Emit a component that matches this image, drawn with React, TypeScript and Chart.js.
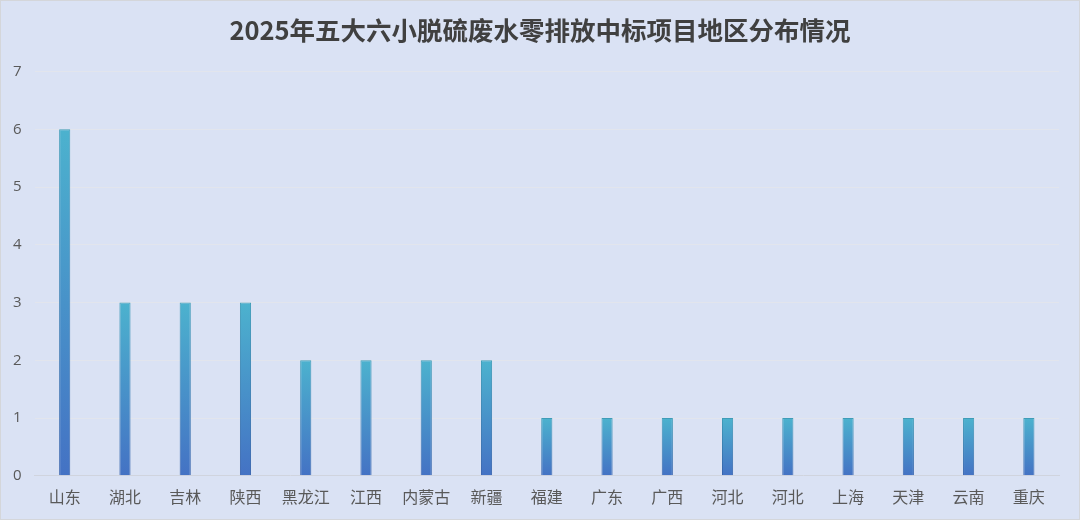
import React, { useEffect, useRef } from "react";
import { Chart, registerables } from "chart.js";

Chart.register(...registerables);

const TITLE = "2025年五大六小脱硫废水零排放中标项目地区分布情况";
const categories = ["山东", "湖北", "吉林", "陕西", "黑龙江", "江西", "内蒙古", "新疆", "福建", "广东", "广西", "河北", "河北", "上海", "天津", "云南", "重庆"];
const counts = [6, 3, 3, 3, 2, 2, 2, 2, 1, 1, 1, 1, 1, 1, 1, 1, 1];
const yTicks = [0, 1, 2, 3, 4, 5, 6, 7];

const bgPlugin = {
  id: "bgPlugin",
  beforeDraw(chart: any) {
    const { ctx, width, height } = chart;
    ctx.save();
    ctx.fillStyle = "#dae2f4";
    ctx.fillRect(0, 0, width, height);
    ctx.strokeStyle = "#d4d6da";
    ctx.lineWidth = 1;
    ctx.strokeRect(0.5, 0.5, width - 1, height - 1);
    ctx.restore();
  },
};

function barGradient(c: any, topColor: string, bottomColor: string) {
  const chart = c.chart;
  const y = chart.scales && chart.scales.y;
  if (!y || c.type !== "data") return bottomColor;
  const top = y.getPixelForValue(c.raw);
  const bot = y.getPixelForValue(0);
  if (!isFinite(top) || !isFinite(bot) || top === bot) return bottomColor;
  const g = chart.ctx.createLinearGradient(0, top, 0, bot);
  g.addColorStop(0, topColor);
  g.addColorStop(1, bottomColor);
  return g;
}

export default function App() {
  const ref = useRef<HTMLCanvasElement>(null);
  useEffect(() => {
    document.body.style.margin = "0";
    const chart = new Chart(ref.current as HTMLCanvasElement, {
      type: "bar",
      data: {
        labels: categories,
        datasets: [
          {
            data: counts,
            yAxisID: "y",
            backgroundColor: (c: any) => barGradient(c, "#4cb2ce", "#4472c4"),
            borderColor: (c: any) => barGradient(c, "#3f9db8", "#3762ad"),
            borderWidth: 1,
            barPercentage: 0.185,
            categoryPercentage: 1,
          },
        ],
      },
      options: {
        animation: false,
        responsive: false,
        devicePixelRatio: 1,
        layout: { padding: { left: 0, right: 0, top: 0, bottom: 1 } },
        plugins: {
          legend: { display: false },
          tooltip: { enabled: false },
          title: {
            display: true,
            text: TITLE,
            color: "#404040",
            font: { family: "'Noto Sans CJK SC', 'Noto Sans', sans-serif", size: 25.5, weight: "bold" },
            padding: { top: 15, bottom: 26 },
          },
        },
        scales: {
          x: {
            grid: { display: false, drawTicks: false },
            border: { display: true, color: "#d0d4de", width: 1 },
            ticks: {
              color: "#595959",
              padding: 12,
              maxRotation: 0,
              autoSkip: false,
              font: { family: "'Noto Sans CJK SC', sans-serif", size: 16 },
            },
          },
          y: {
            min: 0,
            max: 7,
            afterBuildTicks: (axis: any) => {
              axis.ticks = yTicks.map((v) => ({ value: v }));
            },
            grid: { color: "#e2e5ed", lineWidth: 1, drawTicks: false },
            border: { display: false },
            ticks: {
              color: "#595959",
              padding: 13,
              font: { family: "'Open Sans', 'Noto Sans', sans-serif", size: 15 },
            },
          },
          yR: {
            position: "right",
            display: true,
            grid: { display: false, drawTicks: false },
            border: { display: false },
            ticks: { display: false },
            afterFit: (s: any) => {
              s.width = 21;
            },
          },
        },
      },
      plugins: [bgPlugin],
    } as any);
    return () => chart.destroy();
  }, []);
  return (
    <div style={{ position: "absolute", left: 0, top: 0, width: 1080, height: 520 }}>
      <canvas ref={ref} width={1080} height={520} style={{ width: 1080, height: 520, display: "block" }} />
    </div>
  );
}
